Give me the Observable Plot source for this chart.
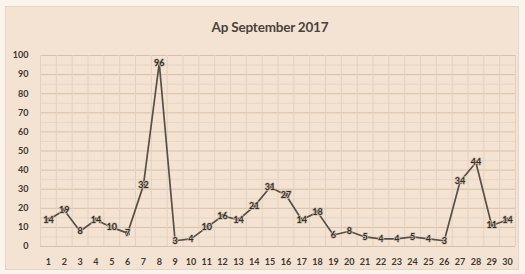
<!DOCTYPE html>
<html>
<head>
<meta charset="utf-8">
<script src="https://cdn.jsdelivr.net/npm/d3@7"></script>
<script src="https://cdn.jsdelivr.net/npm/@observablehq/plot@0.6"></script>
<style>
  html, body { margin: 0; padding: 0; }
  body { width: 525px; height: 274px; background: #fbf4ec; position: relative; overflow: hidden; font-family: Lato, "Open Sans", sans-serif; }
  #frame { position: absolute; left: 5px; top: 6px; width: 514px; height: 264px; background: #f4e3d2; border: 1px solid #e6d6c4; box-sizing: border-box; }
  #title { position: absolute; left: 0; top: 19px; width: 540px; text-align: center; font-size: 13.5px; font-weight: 700; color: #4a433d; letter-spacing: -0.2px; }
  #chart { position: absolute; left: 0; top: 45px; }
</style>
</head>
<body>
<div id="frame"></div>
<div id="title">Ap September 2017</div>
<div id="chart"></div>
<script>
const days = d3.range(1, 31);
const values = [14, 19, 8, 14, 10, 7, 32, 96, 3, 4, 10, 16, 14, 21, 31, 27, 14, 18, 6, 8, 5, 4, 4, 5, 4, 3, 34, 44, 11, 14];
const yTicks = [0, 10, 20, 30, 40, 50, 60, 70, 80, 90, 100];

const data = days.map((d, i) => ({day: d, value: values[i]}));
const minorY = d3.range(5, 100, 10);
const boundaries = d3.range(0.5, 31, 1);

const plot = Plot.plot({
  width: 525,
  height: 229,
  marginLeft: 40,
  marginRight: 10,
  marginTop: 10,
  marginBottom: 28,
  style: {background: "transparent", fontFamily: "Lato, 'Open Sans', sans-serif", fontSize: "9px", fontWeight: "700", color: "#3f3833"},
  x: {domain: [0.5, 30.5], ticks: days, tickFormat: d => String(d), tickSize: 0, tickPadding: 12, label: null},
  y: {domain: [0, 100], ticks: yTicks, tickSize: 0, tickPadding: 12, label: null},
  marks: [
    Plot.ruleY(minorY, {stroke: "#e8d6c3", strokeWidth: 1}),
    Plot.ruleY(yTicks, {stroke: "#d6c0aa", strokeWidth: 1}),
    Plot.ruleX(boundaries, {stroke: "#e4d1bd", strokeWidth: 1}),
    Plot.line(data, {x: "day", y: "value", stroke: "#574f49", strokeWidth: 1.7}),
    Plot.dot(data, {x: "day", y: "value", symbol: "square", r: 2.4, fill: "#574f49"}),
    Plot.text(data, {x: "day", y: "value", text: d => String(d.value), fill: "#352f2a", fontSize: 9, fontWeight: 700, stroke: "#cfbfae", strokeWidth: 1.5, paintOrder: "stroke"})
  ]
});
document.getElementById("chart").appendChild(plot);
</script>
</body>
</html>
